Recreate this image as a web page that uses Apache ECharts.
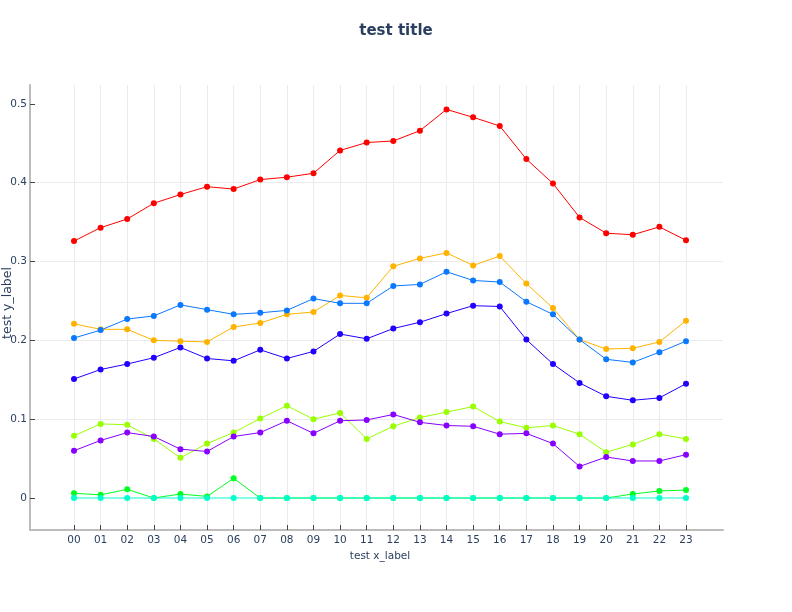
<!DOCTYPE html>
<html>
<head>
<meta charset="utf-8">
<script src="https://cdn.jsdelivr.net/npm/echarts@6/dist/echarts.min.js"></script>
<style>html,body{margin:0;padding:0;background:#fff}#c{width:792px;height:612px}</style>
</head>
<body>
<div id="c"></div>
<script>
const categories = ['00','01','02','03','04','05','06','07','08','09','10','11','12','13','14','15','16','17','18','19','20','21','22','23'];
const yTicks = [0, 0.1, 0.2, 0.3, 0.4, 0.5];

const redSeries = [0.326,0.343,0.354,0.374,0.385,0.395,0.392,0.404,0.407,0.412,0.441,0.451,0.453,0.466,0.493,0.483,0.472,0.430,0.399,0.356,0.336,0.334,0.344,0.327];
const orangeSeries = [0.221,0.214,0.214,0.200,0.199,0.198,0.217,0.222,0.233,0.236,0.257,0.254,0.294,0.304,0.311,0.295,0.307,0.272,0.241,0.201,0.189,0.190,0.198,0.225];
const limeSeries = [0.079,0.094,0.093,0.075,0.051,0.069,0.083,0.101,0.117,0.100,0.108,0.075,0.091,0.102,0.109,0.116,0.097,0.089,0.092,0.081,0.058,0.068,0.081,0.075];
const greenSeries = [0.006,0.004,0.011,0,0.005,0.002,0.025,0,0,0,0,0,0,0,0,0,0,0,0,0,0,0.005,0.009,0.010];
const cyanSeries = [0,0,0,0,0,0,0,0,0,0,0,0,0,0,0,0,0,0,0,0,0,0,0,0];
const blueSeries = [0.203,0.213,0.227,0.231,0.245,0.239,0.233,0.235,0.238,0.253,0.247,0.247,0.269,0.271,0.287,0.276,0.274,0.249,0.233,0.201,0.176,0.172,0.185,0.199];
const navySeries = [0.151,0.163,0.170,0.178,0.191,0.177,0.174,0.188,0.177,0.186,0.208,0.202,0.215,0.223,0.234,0.244,0.243,0.201,0.170,0.146,0.129,0.124,0.127,0.145];
const purpleSeries = [0.060,0.073,0.083,0.078,0.062,0.059,0.078,0.083,0.098,0.082,0.098,0.099,0.106,0.096,0.092,0.091,0.081,0.082,0.069,0.040,0.052,0.047,0.047,0.055];

const seriesList = [
  {data: redSeries, color: '#ff0000'},
  {data: orangeSeries, color: '#ffb300'},
  {data: limeSeries, color: '#99ff00'},
  {data: greenSeries, color: '#00ff22'},
  {data: cyanSeries, color: '#00ffcc'},
  {data: blueSeries, color: '#0a78ff'},
  {data: navySeries, color: '#2200ff'},
  {data: purpleSeries, color: '#8800ff'}
];

const yMin = -0.0406, yMax = 0.524;
const txt = '#2a3f5f';
const font = 'DejaVu Sans';

const chart = echarts.init(document.getElementById('c'), null, {renderer: 'canvas'});
chart.setOption({
  animation: false,
  backgroundColor: '#fff',
  title: {
    text: 'test title', left: 'center', top: 19,
    textStyle: {fontFamily: font, fontSize: 15, fontWeight: 'bold', color: txt}
  },
  grid: [
    {left: 30, right: 69, top: 85, bottom: 82, containLabel: false, outerBoundsMode: 'none'},
    {left: 74, right: 106, top: 85, bottom: 82, containLabel: false, outerBoundsMode: 'none'}
  ],
  xAxis: [
    {
      gridIndex: 0, type: 'value', min: 0, max: 1,
      axisLine: {show: true, onZero: false, lineStyle: {color: '#bcbcbc', width: 2}},
      axisTick: {show: false}, axisLabel: {show: false}, splitLine: {show: false}
    },
    {
      gridIndex: 1, type: 'category', data: categories, boundaryGap: false,
      name: 'test x_label', nameLocation: 'middle', nameGap: 13,
      nameTextStyle: {fontFamily: font, fontSize: 10.5, color: txt},
      axisLine: {show: false, onZero: false},
      axisTick: {show: true, inside: true, length: 5, alignWithLabel: true, lineStyle: {color: '#444', width: 1}},
      axisLabel: {fontFamily: font, fontSize: 10.5, color: txt, margin: 5, interval: 0},
      splitLine: {show: true, lineStyle: {color: '#ebebeb', width: 1}}
    }
  ],
  yAxis: [
    {
      gridIndex: 0, type: 'value', min: yMin, max: yMax,
      name: 'test y_label', nameLocation: 'middle', nameGap: 16, nameMoveOverlap: false,
      nameTextStyle: {fontFamily: font, fontSize: 12.5, color: txt, padding: [0, 0, 0, 9]},
      axisLine: {show: true, onZero: false, lineStyle: {color: '#bcbcbc', width: 2}},
      axisTick: {show: true, inside: true, length: 5, customValues: yTicks, lineStyle: {color: '#444', width: 1}},
      axisLabel: {fontFamily: font, fontSize: 10.5, color: txt, margin: 3, customValues: yTicks,
        formatter: v => String(Math.round(v * 10) / 10)},
      splitLine: {show: true, showMinLine: false, showMaxLine: false, lineStyle: {color: '#ebebeb', width: 1}}
    },
    {
      gridIndex: 1, type: 'value', min: yMin, max: yMax, show: false,
      splitLine: {show: false}
    }
  ],
  series: seriesList.map(s => ({
    type: 'line', xAxisIndex: 1, yAxisIndex: 1, data: s.data,
    symbol: 'circle', symbolSize: 6, showAllSymbol: true,
    lineStyle: {color: s.color, width: 1},
    itemStyle: {color: s.color}
  }))
});
</script>
</body>
</html>
